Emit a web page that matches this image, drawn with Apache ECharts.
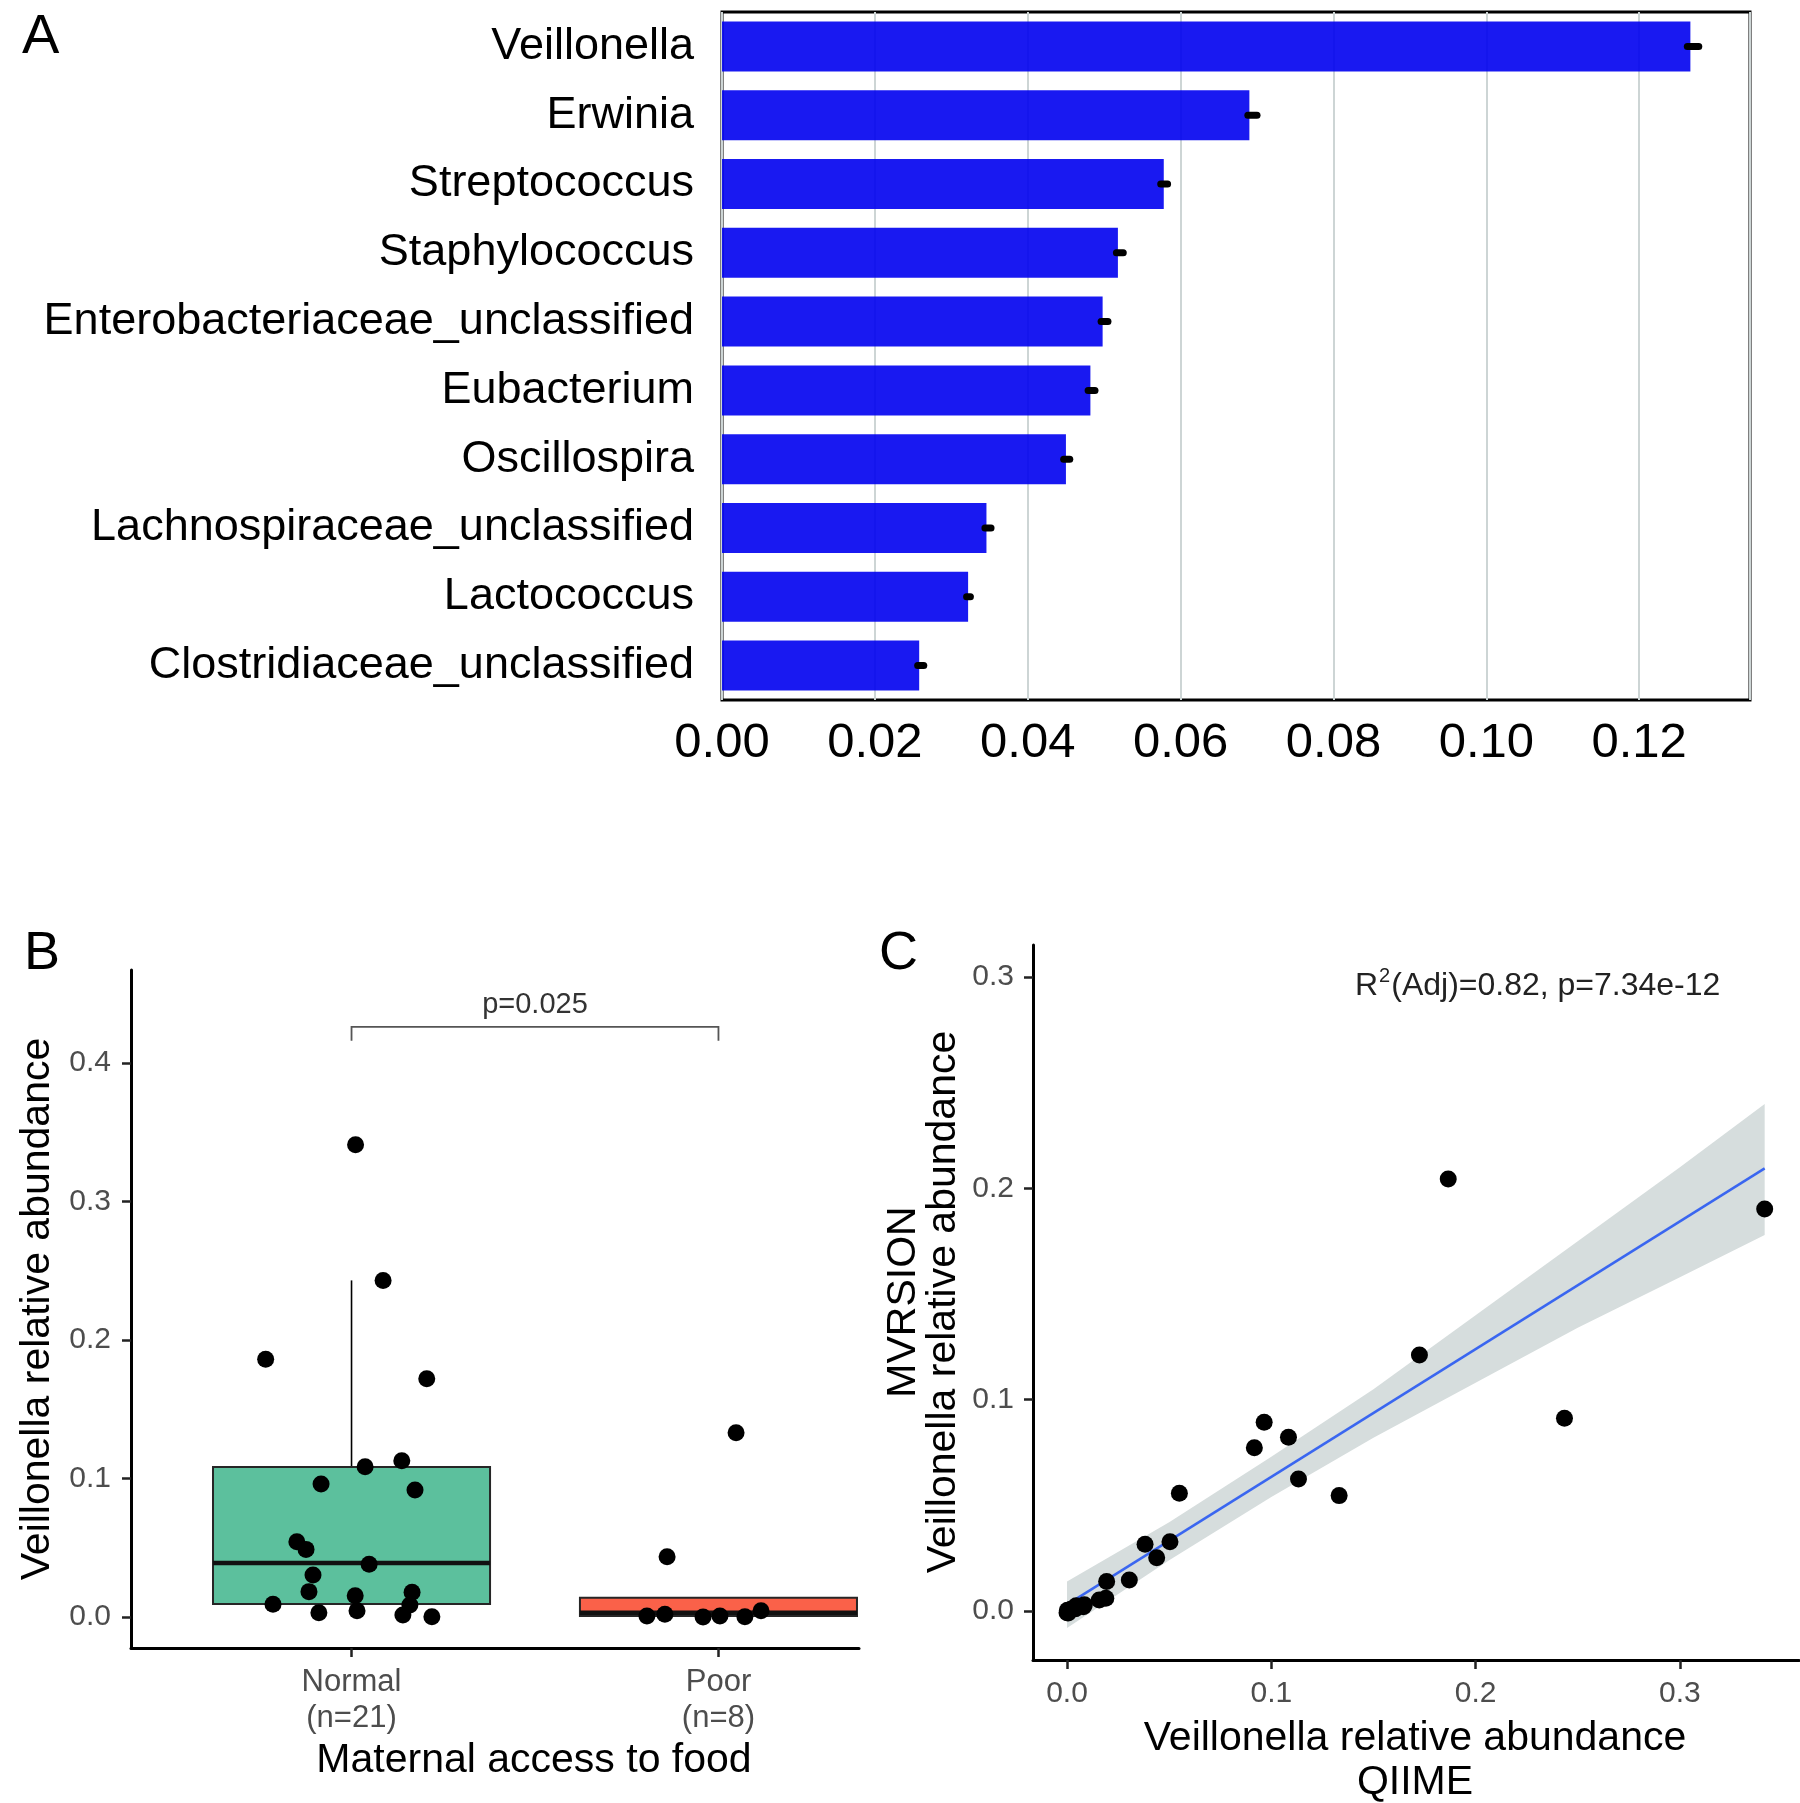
<!DOCTYPE html>
<html><head><meta charset="utf-8">
<script src="https://cdn.jsdelivr.net/npm/echarts@6/dist/echarts.min.js"></script>
<style>html,body{margin:0;padding:0;background:#fff;}#c{width:1800px;height:1803px;}</style>
</head><body><div id="c"></div>
<script>
// ---------- Panel A : mean relative abundance of top genera ----------
const genera = ['Veillonella','Erwinia','Streptococcus','Staphylococcus','Enterobacteriaceae_unclassified','Eubacterium','Oscillospira','Lachnospiraceae_unclassified','Lactococcus','Clostridiaceae_unclassified'];
const meanAbundance = [0.1267,0.0690,0.0578,0.0518,0.0498,0.0482,0.0450,0.0346,0.0322,0.0258];
const errLow  = [0.1263,0.0688,0.0574,0.0516,0.0496,0.0479,0.0447,0.0344,0.0320,0.0256];
const errHigh = [0.1278,0.0700,0.0583,0.0525,0.0505,0.0488,0.0455,0.0352,0.0325,0.0264];
const axisMaxA = 0.1345;

// ---------- Panel B : Veillonella by maternal access to food ----------
const groupLabels = ['Normal\n(n=21)','Poor\n(n=8)'];
const groupPos = [1, 2];
const normalValues = [0.341,0.243,0.186,0.172,0.1128,0.1085,0.096,0.0916,0.0543,0.0488,0.038,0.0303,0.0183,0.0178,0.0154,0.0092,0.0087,0.0045,0.0031,0.0014,0.0002];
const normalJitter = [0.011,0.086,-0.234,0.205,0.137,0.037,-0.083,0.173,-0.149,-0.124,0.048,-0.105,-0.116,0.165,0.010,-0.214,0.159,0.015,-0.089,0.140,0.219];
const poorValues = [0.133,0.0435,0.0007,0.002,0.0,0.0007,0.0002,0.0045];
const poorJitter = [0.048,-0.140,-0.195,-0.146,-0.042,0.004,0.072,0.116];
// [position, lower whisker, Q1, median, Q3, upper whisker]
const boxNormal = [1, 0.0002, 0.0094, 0.039, 0.1082, 0.243];
const boxPoor   = [2, 0.0, 0.0007, 0.003, 0.0139, 0.0139];
const boxColors = ['#5cc09d', '#fa6149'];
const pValueText = 'p=0.025';
const bracketY = 0.426, bracketTipY = 0.416, pTextY = 0.4415;
const yTicksB = [0, 0.1, 0.2, 0.3, 0.4];

// ---------- Panel C : QIIME vs MVRSION ----------
const qiime   = [0.3415,0.2435,0.1866,0.1725,0.1332,0.1133,0.1084,0.0965,0.0917,0.0550,0.0504,0.0439,0.0382,0.0305,
                 0.0194,0.0190,0.0158,0.0085,0.0080,0.0045,0.0035,0.0015,0.0005,0.0040,0.0020,0.0008,0.0006,0.0002,0.0000];
const mvrsion = [0.1903,0.0912,0.2044,0.1212,0.0546,0.0625,0.0822,0.0893,0.0773,0.0557,0.0328,0.0252,0.0316,0.0147,
                 0.0139,0.0060,0.0052,0.0030,0.0020,0.0025,0.0015,0.0005,-0.0005,0.0010,0.0008,0.0000,-0.0010,0.0003,-0.0008];
const fitLine = [[0, 0.003], [0.3415, 0.2095]];
const bandX     = [0, 0.05, 0.10, 0.15, 0.20, 0.25, 0.30, 0.3415];
const bandUpper = [0.014, 0.042, 0.073, 0.105, 0.140, 0.175, 0.210, 0.240];
const bandLower = [-0.008, 0.024, 0.054, 0.082, 0.108, 0.134, 0.158, 0.178];
const ticksC = [0, 0.1, 0.2, 0.3];
const statText = 'R{s|2}(Adj)=0.82, p=7.34e-12';

const FONT = '"Liberation Sans", Arial, Helvetica, sans-serif';
const GREY = '#4d4d4d';

const chart = echarts.init(document.getElementById('c'), null, {renderer: 'canvas'});

function renderErr(params, api) {
  const p1 = api.coord([api.value(0), api.value(2)]);
  const p2 = api.coord([api.value(1), api.value(2)]);
  return {type: 'line', shape: {x1: p1[0], y1: p1[1], x2: p2[0], y2: p2[1]},
          style: {stroke: '#000', lineWidth: 7, lineCap: 'round'}};
}

const boxHalf = 0.3775;
function renderBox(params, api) {
  const x = api.value(0), lo = api.value(1), q1 = api.value(2), med = api.value(3), q3 = api.value(4), hi = api.value(5);
  const children = [];
  if (hi > q3) {
    const a = api.coord([x, q3]), b = api.coord([x, hi]);
    children.push({type: 'line', shape: {x1: a[0], y1: a[1], x2: b[0], y2: b[1]}, style: {stroke: '#000', lineWidth: 1.6}});
  }
  if (lo < q1) {
    const a = api.coord([x, q1]), b = api.coord([x, lo]);
    children.push({type: 'line', shape: {x1: a[0], y1: a[1], x2: b[0], y2: b[1]}, style: {stroke: '#000', lineWidth: 1.6}});
  }
  const tl = api.coord([x - boxHalf, q3]), br = api.coord([x + boxHalf, q1]);
  children.push({type: 'rect', shape: {x: tl[0], y: tl[1], width: br[0] - tl[0], height: br[1] - tl[1]},
                 style: {fill: boxColors[params.dataIndex], stroke: '#262626', lineWidth: 2}});
  const m1 = api.coord([x - boxHalf, med]), m2 = api.coord([x + boxHalf, med]);
  children.push({type: 'line', shape: {x1: m1[0], y1: m1[1], x2: m2[0], y2: m2[1]}, style: {stroke: '#111', lineWidth: 4.5}});
  return {type: 'group', children};
}

function renderBracket(params, api) {
  const a = api.coord([groupPos[0], bracketTipY]), b = api.coord([groupPos[0], bracketY]);
  const c = api.coord([groupPos[1], bracketY]), d = api.coord([groupPos[1], bracketTipY]);
  const t = api.coord([(groupPos[0] + groupPos[1]) / 2, pTextY]);
  return {type: 'group', children: [
    {type: 'polyline', shape: {points: [a, b, c, d]}, style: {stroke: '#555', lineWidth: 1.8, fill: null}},
    {type: 'text', x: t[0], y: t[1], style: {text: pValueText, fontSize: 29, fontFamily: FONT, fill: '#333', align: 'center', verticalAlign: 'middle'}}
  ]};
}

function renderBand(params, api) {
  const pts = [];
  for (let i = 0; i < bandX.length; i++) pts.push(api.coord([bandX[i], bandUpper[i]]));
  for (let i = bandX.length - 1; i >= 0; i--) pts.push(api.coord([bandX[i], bandLower[i]]));
  return {type: 'polygon', shape: {points: pts}, style: {fill: '#d6dddd', stroke: null}};
}

const normalPts = normalValues.map((v, i) => [groupPos[0] + normalJitter[i], v]);
const poorPts = poorValues.map((v, i) => [groupPos[1] + poorJitter[i], v]);

const axisLineStyle = {show: true, onZero: false, lineStyle: {color: '#000', width: 3}};
const tickStyle = {color: '#222', width: 2.5};

const option = {
  backgroundColor: '#fff',
  animation: false,
  textStyle: {fontFamily: FONT},
  grid: [
    {left: 722, top: 12, width: 1028, height: 688, show: true, borderColor: '#000', borderWidth: 3, backgroundColor: 'transparent'},
    {left: 131, top: 970, width: 728, height: 678},
    {left: 1033, top: 945, width: 766, height: 715}
  ],
  xAxis: [
    {gridIndex: 0, type: 'value', min: 0, max: axisMaxA, interval: 0.02,
     axisLine: {show: false}, axisTick: {show: false},
     splitLine: {show: true, lineStyle: {color: '#cdd5d5', width: 2}},
     axisLabel: {fontSize: 49, color: '#000', margin: 19, showMaxLabel: false, fontFamily: FONT,
                 formatter: v => v.toFixed(2)}},
    {gridIndex: 1, type: 'value', min: 0.399, max: 2.383,
     axisLine: axisLineStyle,
     axisTick: {show: true, length: 9, lineStyle: tickStyle, customValues: groupPos},
     splitLine: {show: false},
     axisLabel: {customValues: groupPos, fontSize: 31, lineHeight: 36, color: GREY, margin: 16, fontFamily: FONT,
                 formatter: v => groupLabels[Math.round(v) - 1]}},
    {gridIndex: 2, type: 'value', min: -0.01665, max: 0.3583,
     axisLine: axisLineStyle,
     axisTick: {show: true, length: 9, lineStyle: tickStyle, customValues: ticksC},
     splitLine: {show: false},
     axisLabel: {customValues: ticksC, fontSize: 30, color: GREY, margin: 19, fontFamily: FONT,
                 formatter: v => v.toFixed(1)}}
  ],
  yAxis: [
    {gridIndex: 0, type: 'category', data: genera, inverse: true,
     axisLine: {show: false}, axisTick: {show: false}, splitLine: {show: false},
     axisLabel: {fontSize: 45, color: '#000', margin: 28, fontFamily: FONT}},
    {gridIndex: 1, type: 'value', min: -0.0224, max: 0.4671,
     axisLine: axisLineStyle,
     axisTick: {show: true, length: 9, lineStyle: tickStyle, customValues: yTicksB},
     splitLine: {show: false},
     axisLabel: {customValues: yTicksB, fontSize: 30, color: GREY, margin: 20, fontFamily: FONT,
                 formatter: v => v.toFixed(1)}},
    {gridIndex: 2, type: 'value', min: -0.0232, max: 0.3152,
     axisLine: axisLineStyle,
     axisTick: {show: true, length: 9, lineStyle: tickStyle, customValues: ticksC},
     splitLine: {show: false},
     axisLabel: {customValues: ticksC, fontSize: 30, color: GREY, margin: 19, fontFamily: FONT,
                 formatter: v => v.toFixed(1)}}
  ],
  series: [
    {type: 'bar', xAxisIndex: 0, yAxisIndex: 0, data: meanAbundance, barWidth: '72.7%',
     itemStyle: {color: 'rgba(0,0,240,0.9)'}, z: 2},
    {type: 'custom', xAxisIndex: 0, yAxisIndex: 0, renderItem: renderErr, z: 5,
     data: genera.map((g, i) => [errLow[i], errHigh[i], i])},
    {type: 'custom', xAxisIndex: 1, yAxisIndex: 1, renderItem: renderBox, z: 2,
     data: [boxNormal, boxPoor]},
    {type: 'scatter', xAxisIndex: 1, yAxisIndex: 1, data: normalPts.concat(poorPts), symbolSize: 17,
     itemStyle: {color: '#000', opacity: 1}, z: 5},
    {type: 'custom', xAxisIndex: 1, yAxisIndex: 1, renderItem: renderBracket, data: [[0]], z: 5},
    {type: 'custom', xAxisIndex: 2, yAxisIndex: 2, renderItem: renderBand, data: [[0]], z: 1},
    {type: 'line', xAxisIndex: 2, yAxisIndex: 2, data: fitLine, symbol: 'none',
     lineStyle: {color: '#3a66f0', width: 2.5}, z: 3},
    {type: 'scatter', xAxisIndex: 2, yAxisIndex: 2, data: qiime.map((q, i) => [q, mvrsion[i]]), symbolSize: 17,
     itemStyle: {color: '#000', opacity: 1}, z: 5}
  ],
  graphic: [
    {type: 'text', left: 22, top: 10, style: {text: 'A', fontSize: 56, fontFamily: FONT, fill: '#000'}},
    {type: 'text', left: 24, top: 927, style: {text: 'B', fontSize: 54, fontFamily: FONT, fill: '#000'}},
    {type: 'text', left: 879, top: 927, style: {text: 'C', fontSize: 54, fontFamily: FONT, fill: '#000'}},
    {type: 'text', x: 38, y: 1309, rotation: Math.PI / 2,
     style: {text: 'Veillonella relative abundance', fontSize: 41, fontFamily: FONT, fill: '#000', align: 'center', verticalAlign: 'middle'}},
    {type: 'text', x: 534, y: 1761,
     style: {text: 'Maternal access to food', fontSize: 41, fontFamily: FONT, fill: '#000', align: 'center', verticalAlign: 'middle'}},
    {type: 'text', x: 924, y: 1302, rotation: Math.PI / 2,
     style: {text: 'MVRSION\nVeillonella relative abundance', fontSize: 41, lineHeight: 40, fontFamily: FONT, fill: '#000', align: 'center', verticalAlign: 'middle'}},
    {type: 'text', x: 1415, y: 1761,
     style: {text: 'Veillonella relative abundance\nQIIME', fontSize: 41, lineHeight: 44, fontFamily: FONT, fill: '#000', align: 'center', verticalAlign: 'middle'}},
    {type: 'text', x: 1355, y: 986,
     style: {text: statText, fontSize: 32, fontFamily: FONT, fill: '#222', align: 'left', verticalAlign: 'middle',
             rich: {s: {fontSize: 20, fontFamily: FONT, fill: '#222', verticalAlign: 'top', lineHeight: 40, padding: [0, 1, 0, 1]}}}}
  ]
};
chart.setOption(option);
</script>
</body></html>
